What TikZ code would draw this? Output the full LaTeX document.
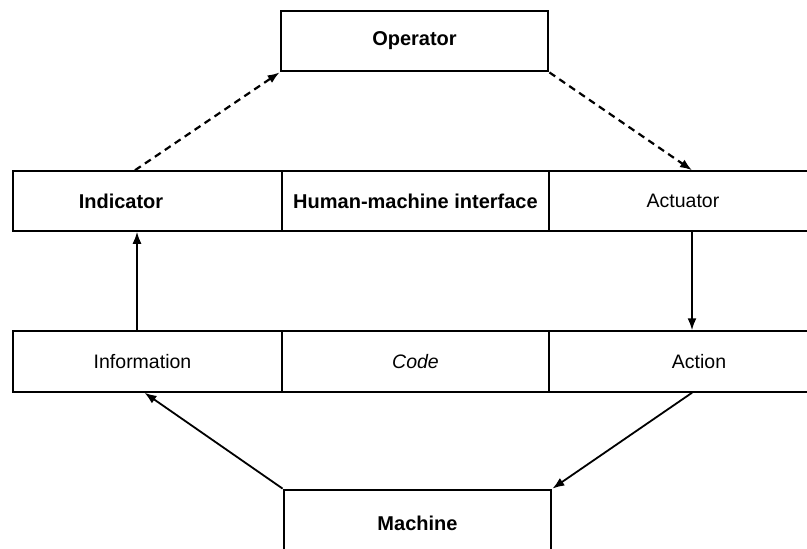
\documentclass[tikz,border=0pt]{standalone}
\usepackage{fontspec}
\setmainfont{Liberation Sans}
\usetikzlibrary{arrows.meta}
\begin{document}
\begin{tikzpicture}[x=1pt,y=-1pt,
  txt/.style={font=\fontsize{19.5}{22}\selectfont},
  btxt/.style={font=\fontsize{20}{22}\selectfont\bfseries},
  cell/.style={draw, line width=1.5pt, inner sep=0pt, minimum height=60pt},
  heavybox/.style={draw, line width=2.8pt, inner sep=0pt, minimum width=267pt},
  solidarrow/.style={line width=1.8pt, -{Latex[length=12pt,width=9pt]}},
  dasharrow/.style={line width=2.2pt, dash pattern=on 7pt off 5pt, -{Latex[length=12pt,width=9pt]}}]
  \useasboundingbox (0,0) rectangle (807,549);
  \clip (0,0) rectangle (807,549);

  % operator and machine
  \node[heavybox, minimum height=60pt, btxt] (op) at (414.5,41) {Operator};
  \node[heavybox, minimum height=72pt, btxt] (mach) at (417.5,526) {Machine\rule[-6pt]{0pt}{0pt}};

  % human-machine interface row
  \node[cell, minimum width=269pt, btxt] (ind) at (147.5,201) {Indicator\hspace*{53pt}};
  \node[cell, minimum width=267pt, btxt] (hmi) at (415.5,201) {Human-machine interface};
  \node[cell, minimum width=300pt, txt] (act) at (699,201) {Actuator\hspace*{32pt}};

  % code row
  \node[cell, minimum width=269pt, minimum height=61pt, txt] (info) at (147.5,361.5) {Information\hspace*{10pt}};
  \node[cell, minimum width=267pt, minimum height=61pt, txt] (code) at (415.5,361.5) {\itshape Code};
  \node[cell, minimum width=300pt, minimum height=61pt, txt] (action) at (699,361.5) {Action};

  % connectors
  \draw[dasharrow] ([xshift=-12.5pt]ind.north) -- (op.south west);
  \draw[dasharrow] (op.south east) -- ([xshift=-7pt]act.north);
  \draw[solidarrow] ([xshift=-10.5pt]info.north) -- ([xshift=-10.5pt]ind.south);
  \draw[solidarrow] ([xshift=-7pt]act.south) -- ([xshift=-7pt]action.north);
  \draw[solidarrow] (mach.north west) -- ([xshift=-3pt]info.south);
  \draw[solidarrow] ([xshift=-7pt]action.south) -- (mach.north east);
\end{tikzpicture}
\end{document}
